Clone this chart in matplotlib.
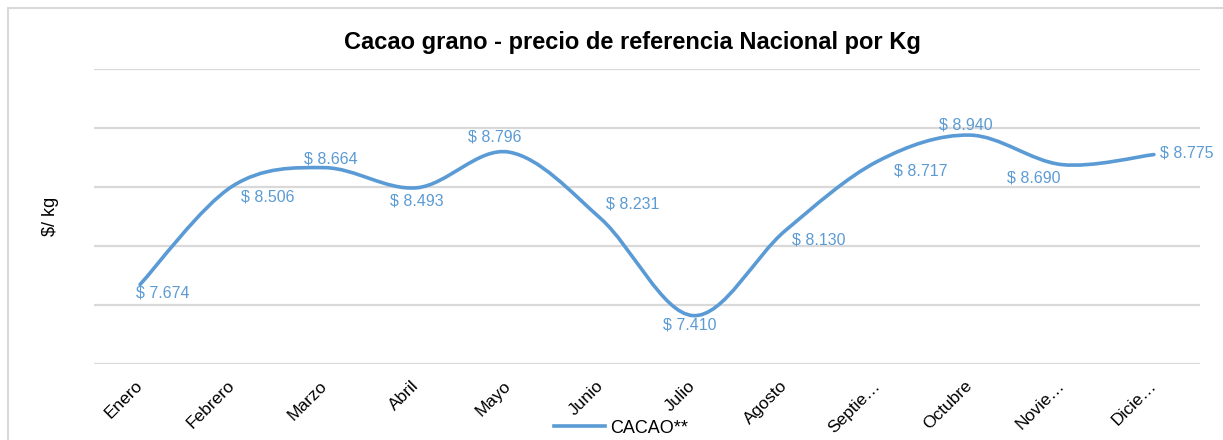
import numpy as np
import matplotlib.pyplot as plt
from matplotlib.path import Path
from matplotlib.patches import PathPatch, Rectangle
from matplotlib.lines import Line2D

plt.rcParams["font.family"] = ["Liberation Sans", "DejaVu Sans"]

# ============================================================
#  Data
# ============================================================
months = ["Enero", "Febrero", "Marzo", "Abril", "Mayo", "Junio",
          "Julio", "Agosto", "Septie\u2026", "Octubre", "Novie\u2026", "Dicie\u2026"]
price = [7.674, 8.506, 8.664, 8.493, 8.796, 8.231,
         7.410, 8.130, 8.717, 8.940, 8.690, 8.775]
price_labels = ["$ 7.674", "$ 8.506", "$ 8.664", "$ 8.493", "$ 8.796", "$ 8.231",
                "$ 7.410", "$ 8.130", "$ 8.717", "$ 8.940", "$ 8.690", "$ 8.775"]

# label offsets in pixels (dx right, dy down) - Excel manual positions
LABEL_OFF = [(23, 9), (36, 11), (6, -9), (0, 13), (-14, -15), (32, -15),
             (-3, 9), (33, 9), (43, 10), (-4, -10), (-28, 13), (33, -2)]

BLUE = "#5B9BD5"
GRID = "#D9D9D9"

W, H = 1223, 440
fig = plt.figure(figsize=(W / 100, H / 100), dpi=100)
ax = fig.add_axes([94 / W, 1 - 364 / H, (1200 - 94) / W, (364 - 69) / H])

x = np.arange(len(price), dtype=float)
y = np.array(price)

# Excel-style smoothed line: cubic Bezier through the points
px = np.concatenate([[x[0]], x, [x[-1]]])
py = np.concatenate([[y[0]], y, [y[-1]]])
verts = [(x[0], y[0])]
codes = [Path.MOVETO]
for i in range(len(x) - 1):
    j = i + 1
    c1 = (px[j] + (px[j + 1] - px[j - 1]) / 6, py[j] + (py[j + 1] - py[j - 1]) / 6)
    c2 = (px[j + 1] - (px[j + 2] - px[j]) / 6, py[j + 1] - (py[j + 2] - py[j]) / 6)
    verts += [c1, c2, (x[j], y[j])]
    codes += [Path.CURVE4] * 3
ax.add_patch(PathPatch(Path(verts, codes), facecolor="none", edgecolor=BLUE,
                       lw=2.6, capstyle="round", zorder=3))

for xi, yi, lab, (dx, dy) in zip(x, y, price_labels, LABEL_OFF):
    ax.annotate(lab, (xi, yi), xytext=(dx * 0.72, -dy * 0.72), textcoords="offset points",
                ha="center", va="center", fontsize=11.5, color=BLUE)

ax.set_xlim(-0.5, len(x) - 0.5)
ax.set_ylim(7.0, 9.5)
ax.set_yticks(np.arange(7.0, 9.51, 0.5))
ax.set_yticklabels([])
ax.tick_params(axis="y", length=0)
ax.grid(axis="y", color=GRID, lw=1.6)
ax.set_axisbelow(True)
for s in ax.spines.values():
    s.set_visible(False)

ax.set_xticks(x)
ax.set_xticklabels(months, rotation=45, ha="right", va="center",
                   rotation_mode="anchor", fontsize=12.5)
ax.tick_params(axis="x", length=0, pad=14)

ax.set_ylabel("$/ kg", fontsize=13, labelpad=22)

fig.text(632 / W, 1 - 42 / H, "Cacao grano - precio de referencia Nacional por Kg",
         ha="center", va="center", fontsize=17, fontweight="bold")

# legend
fig.legend(handles=[Line2D([], [], color=BLUE, lw=2.6)], labels=["CACAO**"],
           loc="center", bbox_to_anchor=(621 / W, 1 - 428 / H), frameon=False,
           fontsize=13, handlelength=2.8, handletextpad=0.3)

# outer chart frame
fig.patches.append(Rectangle((8 / W, -0.2), 1.2, 1 - 8.5 / H + 0.2, transform=fig.transFigure,
                             fill=False, edgecolor="#D9D9D9", lw=1.5))

fig.savefig("out.png", dpi=100)
